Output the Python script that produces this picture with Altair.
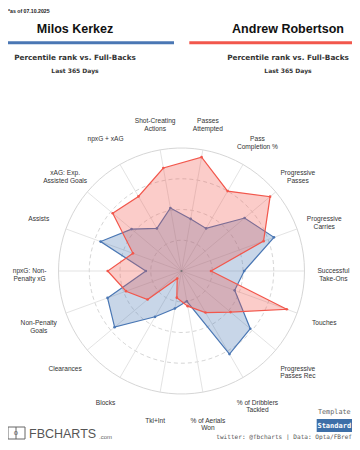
import altair as alt
import pandas as pd

# ---- data ----
categories = ["Successful\nTake-Ons", "Progressive\nCarries", "Progressive\nPasses",
              "Pass\nCompletion %", "Passes\nAttempted", "Shot-Creating\nActions",
              "npxG + xAG", "xAG: Exp.\nAssisted Goals", "Assists",
              "npxG: Non-\nPenalty xG", "Non-Penalty\nGoals", "Clearances", "Blocks",
              "Tkl+Int", "% of Aerials\nWon", "% of Dribblers\nTackled",
              "Progressive\nPasses Rec", "Touches"]
kerkez = [51, 80, 67, 40, 43, 52, 40, 53, 70, 29, 64, 71, 43, 31, 25, 78, 73, 46]
robertson = [24, 71, 94, 75, 94, 85, 70, 73, 42, 60, 48, 36, 7, 22, 29, 39, 52, 91]
players = ["Milos Kerkez", "Andrew Robertson"]
ring_levels = [25, 50, 75]

N = len(categories)
BLUE = "#4a77b4"
RED = "#f2574c"

W, H = 344, 432
PX = 1.23          # pixels per percentile unit
CX, CY = 173.5, 263.0
xs = alt.Scale(domain=[-CX / PX, (W - CX) / PX], nice=False, zero=False)
ys = alt.Scale(domain=[-(H - CY) / PX, CY / PX], nice=False, zero=False)


def X(f):
    return alt.X(f, type="quantitative", scale=xs, axis=None)


def Y(f):
    return alt.Y(f, type="quantitative", scale=ys, axis=None)


cat_df = pd.DataFrame({"cat": categories, "idx": list(range(N))})
ANG = f"datum.idx*2*PI/{N}"

long_df = pd.concat([
    pd.DataFrame({"player": players[0], "cat": categories, "idx": list(range(N)), "v": kerkez}),
    pd.DataFrame({"player": players[1], "cat": categories, "idx": list(range(N)), "v": robertson}),
])

layers = []

# rings
def ring(level, dashed):
    kw = dict(color="#d6d6d6", strokeWidth=1)
    if dashed:
        kw["strokeDash"] = [4, 3]
    return (alt.Chart(alt.sequence(0, 364, 4, as_="deg"))
            .transform_calculate(rx=f"{level}*cos(datum.deg*PI/180)",
                                 ry=f"{level}*sin(datum.deg*PI/180)")
            .mark_line(**kw)
            .encode(x=X("rx"), y=Y("ry"), order=alt.Order("deg:Q")))

for lv in ring_levels:
    layers.append(ring(lv, True))
layers.append(ring(100, False))

# spokes
spokes = (alt.Chart(cat_df)
          .transform_calculate(z="0", ex=f"100*cos({ANG})", ey=f"100*sin({ANG})")
          .mark_rule(color="#dcdcdc", strokeWidth=0.8)
          .encode(x=X("z"), y=Y("z"), x2="ex:Q", y2="ey:Q"))
layers.append(spokes)

# category labels
labels = (alt.Chart(cat_df)
          .transform_calculate(lx=f"123.5*cos({ANG})", ly=f"123.5*sin({ANG})")
          .mark_text(lineBreak="\n", font="Liberation Sans", fontSize=6.6,
                     lineHeight=7.8, color="#333333", align="center", baseline="middle")
          .encode(x=X("lx"), y=Y("ly"), text="cat:N"))
layers.append(labels)

# polygons: blue first, red on top
def poly(name, col):
    base = (alt.Chart(long_df)
            .transform_filter(alt.datum.player == name)
            .transform_calculate(px=f"datum.v*cos({ANG})", py=f"datum.v*sin({ANG})"))
    enc = dict(x=X("px"), y=Y("py"), order=alt.Order("idx:Q"))
    fill = base.mark_line(interpolate="linear-closed", filled=True, color=col,
                          fillOpacity=0.3, strokeOpacity=0).encode(**enc)
    line = base.mark_line(interpolate="linear-closed", color=col, strokeWidth=1.2).encode(**enc)
    pts = base.mark_circle(size=7, color=col, opacity=1).encode(x=X("px"), y=Y("py"))
    return [fill, line, pts]

layers += poly(players[0], BLUE)
layers += poly(players[1], RED)

center = (alt.Chart(pd.DataFrame({"z": [0]}))
          .mark_circle(size=5, color="#777777", opacity=1)
          .encode(x=X("z"), y=Y("z")))
layers.append(center)

one = pd.DataFrame({"a": [0]})


def txt(text, x, y, **kw):
    return (alt.Chart(pd.DataFrame({"t": [text]}))
            .mark_text(**kw)
            .encode(x=alt.value(x), y=alt.value(y), text="t:N"))


def box(x0, x1, y0, y1, **kw):
    return (alt.Chart(one).mark_rect(**kw)
            .encode(x=alt.value(x0), x2=alt.value(x1), y=alt.value(y0), y2=alt.value(y1)))

# header
layers.append(txt("*as of 07.10.2025", 0, 3, font="Liberation Sans", fontSize=5.2,
                  fontWeight="bold", color="#222222", align="left", baseline="middle"))
layers.append(txt(players[0], 67, 20.5, font="Liberation Sans", fontSize=12.5,
                  fontWeight="bold", color="#111111", align="center", baseline="middle"))
layers.append(txt(players[1], 280, 20.5, font="Liberation Sans", fontSize=12.5,
                  fontWeight="bold", color="#111111", align="center", baseline="middle"))
layers.append(box(0, 166, 33.3, 36.3, color=BLUE))
layers.append(box(181.3, 344, 33.3, 36.3, color=RED))
for cx in (67, 280):
    layers.append(txt("Percentile rank vs. Full-Backs", cx, 49.5, font="DejaVu Sans",
                      fontSize=7.3, fontWeight="bold", color="#333333", align="center",
                      baseline="middle"))
    layers.append(txt("Last 365 Days", cx, 63, font="DejaVu Sans", fontSize=6,
                      fontWeight="bold", color="#333333", align="center", baseline="middle"))

# footer
layers.append(box(0, 17, 419, 431, fill="white", stroke="#666666", strokeWidth=1))
layers.append(box(7.5, 8.5, 419, 431, color="#666666"))
layers.append(txt("o", 8, 424.5, font="DejaVu Sans", fontSize=7, color="#666666",
                  align="center", baseline="middle"))
layers.append(txt("FBCHARTS", 21, 425.5, font="Liberation Sans Narrow, Liberation Sans",
                  fontSize=12.5, color="#555555", align="left", baseline="middle"))
layers.append(txt(".com", 91, 429, font="Liberation Sans", fontSize=6,
                  color="#666666", align="left", baseline="middle"))
layers.append(txt("Template", 326.3, 404, font="DejaVu Sans Mono", fontSize=6.8,
                  color="#666666", align="center", baseline="middle"))
layers.append(box(308.7, 344, 411, 424, color="#3d6fa8"))
layers.append(txt("Standard", 326.3, 417.7, font="DejaVu Sans Mono", fontSize=7,
                  fontWeight="bold", color="white", align="center", baseline="middle"))
layers.append(txt("twitter: @fbcharts | Data: Opta/FBref", 344, 429, font="DejaVu Sans Mono",
                  fontSize=6.1, color="#555555", align="right", baseline="middle"))

chart = (alt.layer(*layers)
         .properties(width=W, height=H, padding=0, autosize=alt.AutoSizeParams(type="none"),
                     background="white")
         .configure_view(stroke=None))

chart.save("out.html", embed_options={"renderer": "svg", "actions": False})
